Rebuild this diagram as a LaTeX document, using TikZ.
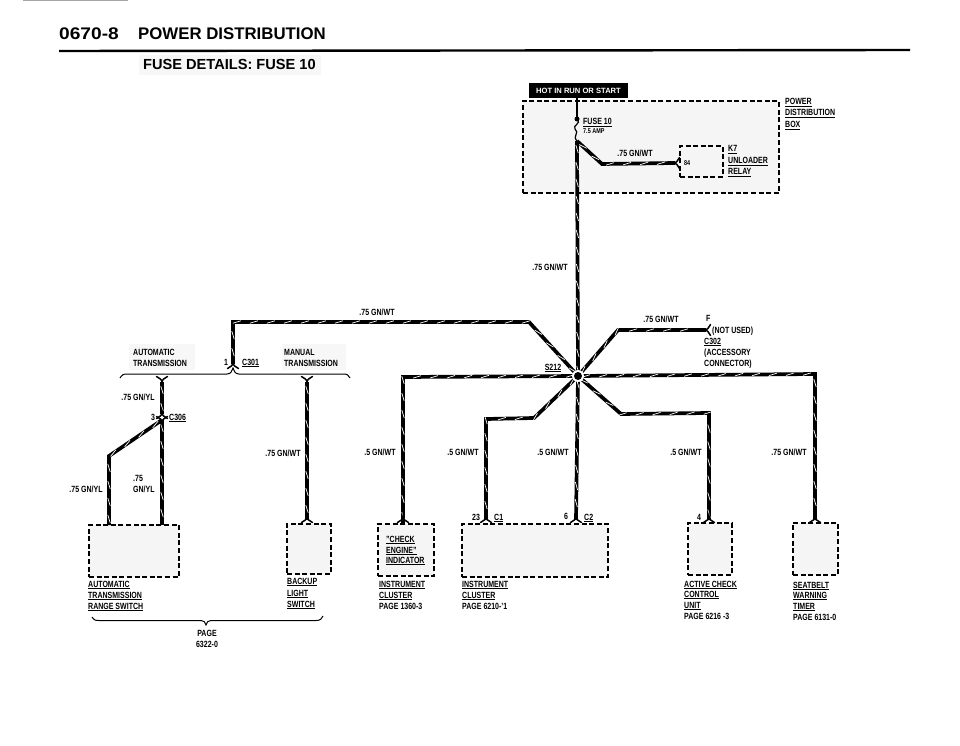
\documentclass[tikz,border=0pt]{standalone}
\usepackage{fontspec}
\usetikzlibrary{decorations.markings}
\setmainfont{Liberation Sans}[FakeStretch=0.78]
\newfontfamily\headfont{Liberation Sans}
\newfontfamily\digitfont{Liberation Sans}[FakeStretch=1.14]
\newcommand\ul[1]{\vtop{\hbox{#1}\kern1.3pt\hrule height .8pt}}
\tikzset{
  wire/.style={draw=black,line width=3.7pt,line join=miter,postaction={decorate},
    decoration={markings,mark=between positions 8pt and -5pt step 17pt with {
      \draw[white,line width=.7pt] (-4,1.2)--(4,-1.2);}}},
  lab/.style={anchor=base west,inner sep=0pt,yshift=-3pt,font=\bfseries\fontsize{9}{9}\selectfont,text=black},
  labc/.style={lab,anchor=base},
  dbox/.style={draw=black,dashed,dash pattern=on 5pt off 2.6pt,line width=1.4pt,fill=black!4,inner sep=0pt},
  speck/.style={fill=black!3,draw=none,inner sep=0pt},
  fork/.pic={\draw[line width=1.5pt,line cap=round] (-5.5,3.5) .. controls (-2,1) and (0,1) .. (0,-3) .. controls (0,1) and (2,1) .. (5.5,3.5);}
}
\begin{document}
\begin{tikzpicture}[x=1pt,y=-1pt]
\useasboundingbox (0,0) rectangle (960,746);
% header
\draw[black!35,line width=.8pt] (23,.6) -- (128,.6);
\node[speck,minimum width=182pt,minimum height=20pt] (hs) at (230,65) {};
\node[anchor=base west,inner sep=0pt] (h1) at (59,40) {\digitfont\bfseries\fontsize{16.8}{17}\selectfont 0670-8};
\node[anchor=base west,inner sep=0pt] (h2) at (138,40) {\headfont\bfseries\fontsize{16.8}{17}\selectfont POWER DISTRIBUTION};
\coordinate (ruleA) at (59,51); \coordinate (ruleB) at (910,50);
\draw[line width=2.4pt] (ruleA) -- (ruleB);
\node[anchor=base west,inner sep=0pt] (h3) at (143,70) {\headfont\bfseries\fontsize{14.6}{15}\selectfont FUSE DETAILS: FUSE 10};
% boxes
\node[dbox,minimum width=256pt,minimum height=92pt] (pdb) at (651,147) {};
\node[dbox,minimum width=43pt,minimum height=31pt,fill=none] (relay) at (701.5,161.5) {};
\node[dbox,minimum width=90pt,minimum height=52pt] (bauto) at (134,551) {};
\node[dbox,minimum width=44pt,minimum height=50pt] (bback) at (309,549) {};
\node[dbox,minimum width=56pt,minimum height=52pt] (bcheck) at (406,550) {};
\node[dbox,minimum width=146pt,minimum height=53pt] (binst) at (535,550.5) {};
\node[dbox,minimum width=44pt,minimum height=52pt] (bact) at (710,549) {};
\node[dbox,minimum width=45pt,minimum height=52pt] (bseat) at (815.5,549) {};
\node[speck,minimum width=66pt,minimum height=26pt] (sp1) at (162,357) {};
\node[speck,minimum width=64pt,minimum height=26pt] (sp2) at (314,357) {};
% hot label
\node[fill=black,text=white,inner sep=0pt,minimum width=99pt,minimum height=15pt,font=\headfont\bfseries\fontsize{7.6}{8}\selectfont] (hot) at (578.5,90.5) {HOT IN RUN OR START};
% points
\coordinate (s212) at (578,376);
\coordinate (fusedot) at (577,119);
\coordinate (ftop) at (577,141);
\coordinate (f1) at (602,164);
\coordinate (relayin) at (675,163);
\coordinate (tw1) at (529,322);
\coordinate (tw2) at (233,322);
\coordinate (c301) at (233,364);
\coordinate (l1) at (403,377);
\coordinate (l2) at (403,524);
\coordinate (u1) at (618,330);
\coordinate (fconn) at (706,330);
\coordinate (r1) at (815,374);
\coordinate (r2) at (815,520);
\coordinate (lr1) at (621,414);
\coordinate (lr2) at (709,413);
\coordinate (lr3) at (709,520);
\coordinate (ll1) at (534,418);
\coordinate (ll2) at (486,419);
\coordinate (ll3) at (486,520);
\coordinate (b1) at (576,520);
\coordinate (m1) at (307,382);
\coordinate (m2) at (307,520);
\coordinate (a1) at (162,382);
\coordinate (a2) at (162,414);
\coordinate (c306) at (162,420);
\coordinate (a3) at (162,525);
\coordinate (a4) at (109,456);
\coordinate (a5) at (109,525);
% thin fuse
\draw[line width=1.2pt] (hot.south -| fusedot) -- (fusedot);
\fill (fusedot) circle (2.5pt);
\draw[line width=1.2pt] (fusedot) .. controls (582,124) and (572,125) .. (575,129) .. controls (580,133) and (572,136) .. (ftop);
% wires
\draw[wire] (ftop) -- (s212);
\draw[wire] (ftop) -- (f1) -- (relayin);
\draw[wire] (s212) -- (tw1) -- (tw2) -- (c301);
\draw[wire] (s212) -- (l1) -- (l2);
\draw[wire] (s212) -- (u1) -- (fconn);
\draw[wire] (s212) -- (r1) -- (r2);
\draw[wire] (s212) -- (lr1) -- (lr2) -- (lr3);
\draw[wire] (s212) -- (ll1) -- (ll2) -- (ll3);
\draw[wire] (s212) -- (b1);
\draw[wire] (m1) -- (m2);
\draw[wire] (a1) -- (a2);
\draw[wire] (c306) -- (a3);
\draw[wire] (c306) -- (a4) -- (a5);
% splice
\node[circle,fill=white,minimum size=12pt,inner sep=0pt] (sw) at (s212) {};
\node[circle,fill=black,minimum size=8pt,inner sep=0pt] (sb) at (s212) {};
% forks
\pic at (233,365) {fork};
\pic[rotate=180] at (162,380) {fork};
\pic at (162,415) {fork};
\pic[rotate=180] at (162,420) {fork};
\pic[rotate=180] at (307,380) {fork};
\pic at (307,519) {fork};
\pic at (403,519) {fork};
\pic at (486,519) {fork};
\pic at (576,519) {fork};
\pic at (709,519) {fork};
\pic at (815,519) {fork};
\pic[rotate=90] at (676,163) {fork};
\pic[rotate=90] at (707,330) {fork};
% braces
\draw[line width=1pt] (120,378) .. controls (122,375) and (123,374) .. (127,374) -- (227,374) .. controls (231,374) and (232,371) .. (233,368) .. controls (234,371) and (235,374) .. (239,374) -- (343,374) .. controls (347,374) and (349,375) .. (350,378);
\draw[line width=1pt] (92,617) .. controls (94,620) and (95,620.5) .. (99,620.5) -- (201,620.5) .. controls (204,620.5) and (205,622) .. (206,625) .. controls (207,622) and (208,620.5) .. (211,620.5) -- (316,620.5) .. controls (320,620.5) and (322,619) .. (323,616);
% labels
\node[lab] (t1) at (785,102) {\ul{POWER}};
\node[lab] (t2) at (785,113) {\ul{DISTRIBUTION}};
\node[lab] (t3) at (785,125) {\ul{BOX}};
\node[lab] (t4) at (583,122) {\ul{FUSE 10}};
\node[lab,font=\bfseries\fontsize{7}{7}\selectfont] (t5) at (583,131) {7.5 AMP};
\node[labc] (t6) at (635,154) {.75 GN/WT};
\node[lab,font=\bfseries\fontsize{7}{7}\selectfont] (t7) at (684,163) {84};
\node[lab] (t8) at (728,149) {\ul{K7}};
\node[lab] (t9) at (728,161) {\ul{UNLOADER}};
\node[lab] (t10) at (728,172) {\ul{RELAY}};
\node[labc] (t11) at (550,267) {.75 GN/WT};
\node[labc] (t12) at (377,312) {.75 GN/WT};
\node[labc] (t13) at (661,319) {.75 GN/WT};
\node[lab] (t14) at (706,318) {F};
\node[lab] (t15) at (712,330) {(NOT USED)};
\node[lab] (t16) at (704,341) {\ul{C302}};
\node[lab] (t17) at (704,352) {(ACCESSORY};
\node[lab] (t18) at (704,363) {CONNECTOR)};
\node[labc] (t19) at (553,367) {\ul{S212}};
\node[lab] (t20) at (133,352) {AUTOMATIC};
\node[lab] (t21) at (133,363) {TRANSMISSION};
\node[lab] (t22) at (224,362) {1};
\node[lab] (t23) at (242,362) {\ul{C301}};
\node[lab] (t24) at (284,352) {MANUAL};
\node[lab] (t25) at (284,363) {TRANSMISSION};
\node[labc] (t26) at (138,397) {.75 GN/YL};
\node[lab] (t27) at (151,417) {3};
\node[lab] (t28) at (169,417) {\ul{C306}};
\node[lab] (t29) at (133,478) {.75};
\node[lab] (t30) at (133,489) {GN/YL};
\node[labc] (t31) at (86,489) {.75 GN/YL};
\node[labc] (t32) at (283,453) {.75 GN/WT};
\node[labc] (t33) at (380,452) {.5 GN/WT};
\node[labc] (t34) at (463,452) {.5 GN/WT};
\node[labc] (t35) at (553,452) {.5 GN/WT};
\node[labc] (t36) at (686,452) {.5 GN/WT};
\node[labc] (t37) at (789,452) {.75 GN/WT};
\node[lab] (t38) at (472,517) {23};
\node[lab] (t39) at (494,517) {\ul{C1}};
\node[lab] (t40) at (564,516) {6};
\node[lab] (t41) at (584,517) {\ul{C2}};
\node[lab] (t42) at (697,517) {4};
\node[lab] (t43) at (386,539) {\ul{"CHECK}};
\node[lab] (t44) at (386,550) {\ul{ENGINE"}};
\node[lab] (t45) at (386,560) {\ul{INDICATOR}};
\node[lab] (t46) at (88,584) {\ul{AUTOMATIC}};
\node[lab] (t47) at (88,595) {\ul{TRANSMISSION}};
\node[lab] (t48) at (88,606) {\ul{RANGE SWITCH}};
\node[lab] (t49) at (287,581) {\ul{BACKUP}};
\node[lab] (t50) at (287,593) {\ul{LIGHT}};
\node[lab] (t51) at (287,604) {\ul{SWITCH}};
\node[lab] (t52) at (379,584) {\ul{INSTRUMENT}};
\node[lab] (t53) at (379,595) {\ul{CLUSTER}};
\node[lab] (t54) at (379,606) {PAGE 1360-3};
\node[lab] (t55) at (462,584) {\ul{INSTRUMENT}};
\node[lab] (t56) at (462,595) {\ul{CLUSTER}};
\node[lab] (t57) at (462,606) {PAGE 6210-'1};
\node[lab] (t58) at (684,584) {\ul{ACTIVE CHECK}};
\node[lab] (t59) at (684,594) {\ul{CONTROL}};
\node[lab] (t60) at (684,605) {\ul{UNIT}};
\node[lab] (t61) at (684,616) {PAGE 6216 -3};
\node[lab] (t62) at (793,585) {\ul{SEATBELT}};
\node[lab] (t63) at (793,595) {\ul{WARNING}};
\node[lab] (t64) at (793,606) {\ul{TIMER}};
\node[lab] (t65) at (793,617) {PAGE 6131-0};
\node[labc] (t66) at (207,633) {PAGE};
\node[labc] (t67) at (207,644) {6322-0};
\end{tikzpicture}
\end{document}
